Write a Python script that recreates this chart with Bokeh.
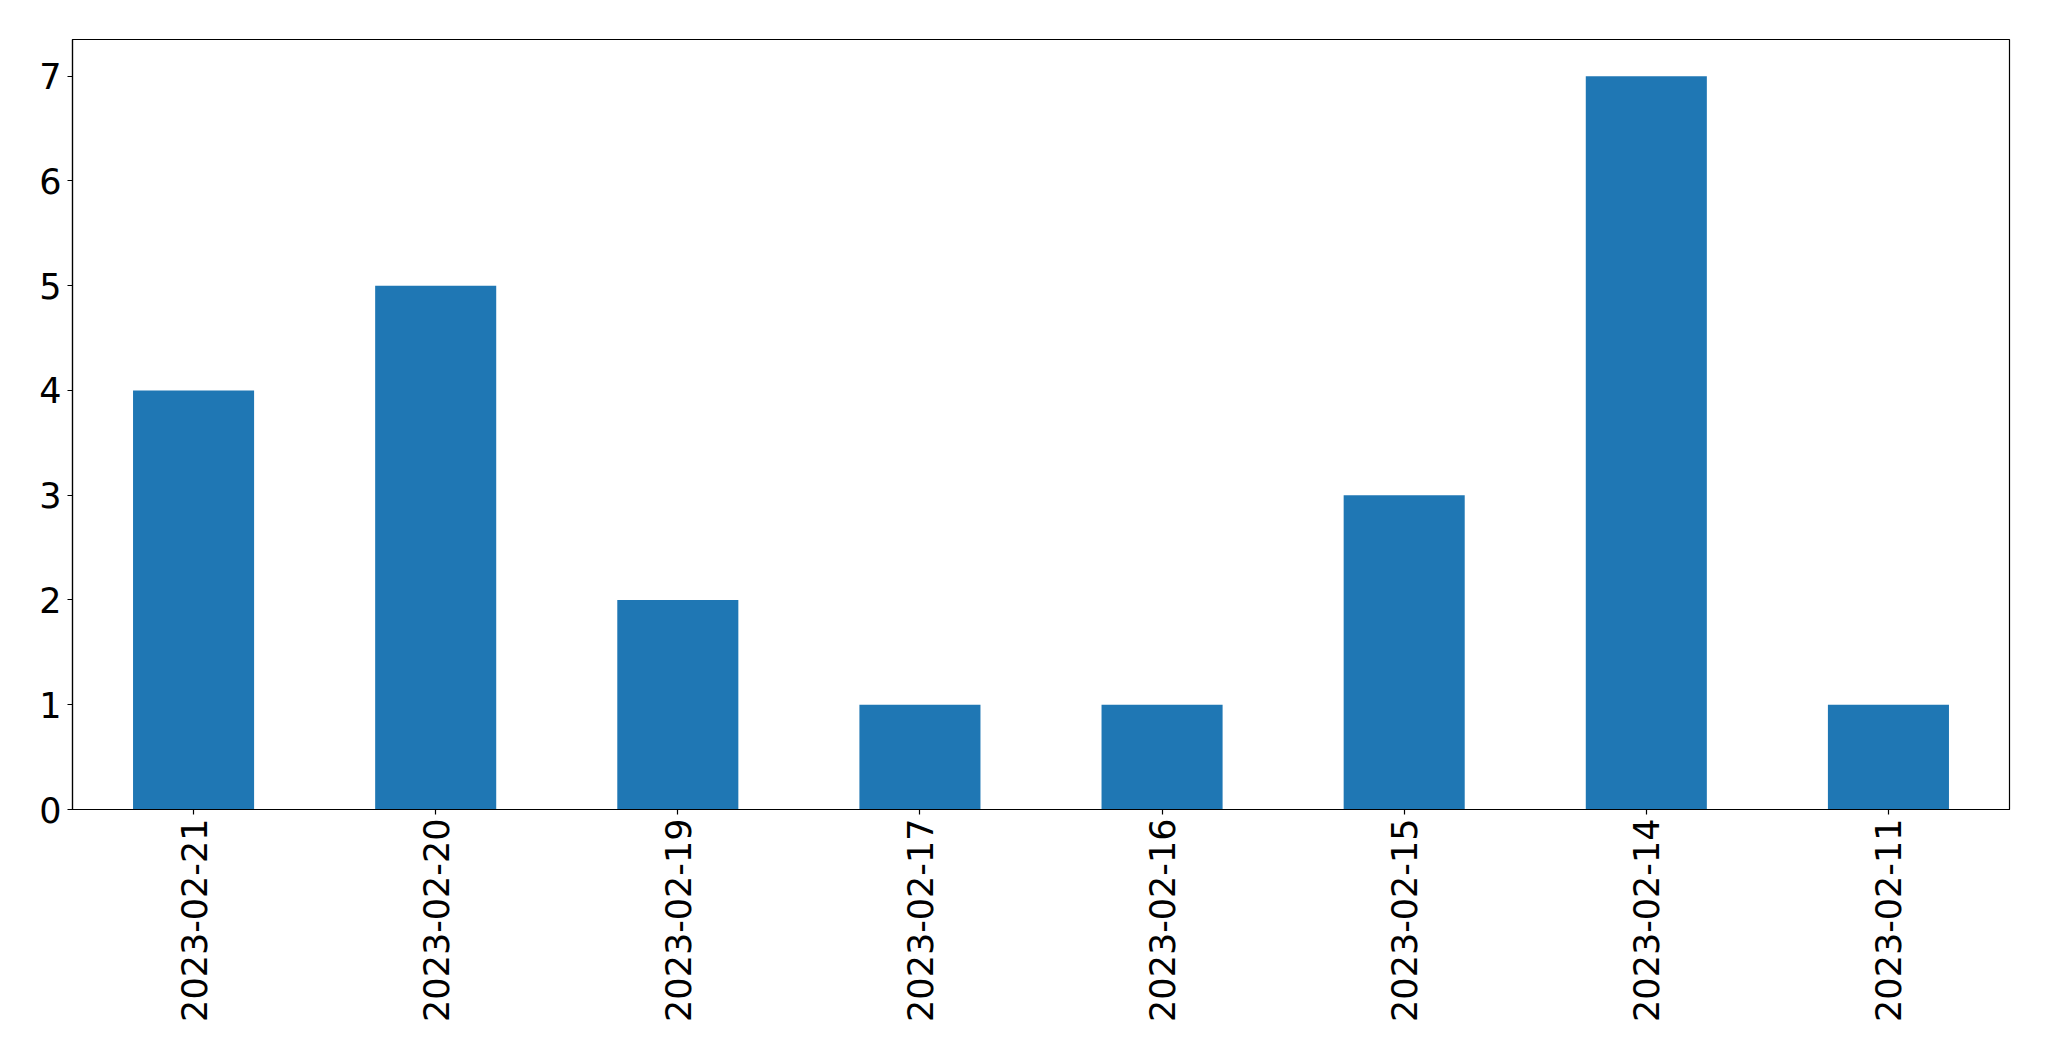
import math
from bokeh.plotting import figure
from bokeh.models import FactorRange, Range1d, FixedTicker
from bokeh.embed import file_html
from bokeh.resources import INLINE

dates = ["2023-02-21", "2023-02-20", "2023-02-19", "2023-02-17",
         "2023-02-16", "2023-02-15", "2023-02-14", "2023-02-11"]
counts = [4, 5, 2, 1, 1, 3, 7, 1]
y_ticks = [0, 1, 2, 3, 4, 5, 6, 7]

p = figure(
    x_range=FactorRange(factors=dates, range_padding=0),
    y_range=Range1d(0, 7.35),
    frame_width=1937, frame_height=770,
    min_border_left=72, min_border_top=39, min_border_right=20, min_border_bottom=230,
    output_backend="svg", toolbar_location=None,
)
p.vbar(x=dates, top=counts, width=0.5, fill_color="#1f77b4", line_color=None)

p.xgrid.visible = False
p.ygrid.visible = False
p.outline_line_color = "black"
p.outline_line_width = 1.2

for ax in (p.xaxis[0], p.yaxis[0]):
    ax.axis_line_color = "black"
    ax.axis_line_width = 1.2
    ax.major_tick_line_color = "black"
    ax.major_tick_line_width = 1.2
    ax.major_tick_out = 5
    ax.major_tick_in = 0
    ax.minor_tick_line_color = None
    ax.major_label_text_font = "DejaVu Sans"
    ax.major_label_text_font_size = "35px"
    ax.major_label_text_color = "black"

p.yaxis.ticker = FixedTicker(ticks=y_ticks)
p.yaxis.major_label_standoff = 6
p.xaxis.major_label_orientation = math.pi / 2
p.xaxis.major_label_standoff = 4

open("out.html", "w").write(file_html(p, INLINE))
